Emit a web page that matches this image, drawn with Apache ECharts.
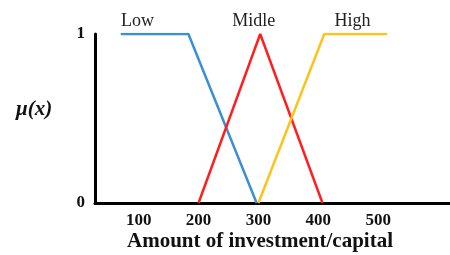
<!DOCTYPE html>
<html>
<head>
<meta charset="utf-8">
<script src="https://cdn.jsdelivr.net/npm/echarts@6/dist/echarts.min.js"></script>
<style>
  html, body { margin: 0; padding: 0; background: #fff; }
  #chart { width: 450px; height: 255px; }
</style>
</head>
<body>
<div id="chart"></div>
<script>
// membership functions
const lowX = [70, 183, 297];
const lowY = [1, 1, 0];
const midX = [200, 303, 407];
const midY = [0, 1, 0];
const highX = [300, 410, 515];
const highY = [0, 1, 1];

const setNames = ['Low', 'Midle', 'High'];
const setLabelX = [98, 292, 457];
const xTicks = [100, 200, 300, 400, 500];
const yTicks = [0, 1];

const colors = ['#3b8fd6', '#ff1f1f', '#ffc21a'];
const serif = '"Liberation Serif", "DejaVu Serif", serif';

const pairs = (xs, ys) => xs.map((x, i) => [x, ys[i]]);
const series = [pairs(lowX, lowY), pairs(midX, midY), pairs(highX, highY)].map((d, i) => ({
    name: setNames[i],
    type: 'line',
    data: d,
    symbol: 'none',
    lineStyle: {color: colors[i], width: 2.5},
    markPoint: {
        symbol: 'circle',
        symbolSize: 0,
        data: [{coord: [setLabelX[i], 1]}],
        label: {
            show: true,
            position: 'top',
            distance: 4,
            formatter: setNames[i],
            color: '#222',
            fontFamily: serif,
            fontSize: 18
        }
    }
}));

const chart = echarts.init(document.getElementById('chart'));
chart.setOption({
    animation: false,
    grid: {left: 95, right: 0, top: 34, bottom: 52},
    xAxis: {
        type: 'value',
        min: 27,
        max: 620,
        splitLine: {show: false},
        axisTick: {show: false},
        axisLine: {lineStyle: {color: '#000', width: 3}},
        axisLabel: {
            customValues: xTicks,
            margin: 9,
            color: '#111',
            fontFamily: serif,
            fontWeight: 'bold',
            fontSize: 17
        }
    },
    yAxis: {
        type: 'value',
        min: 0,
        max: 1,
        splitLine: {show: false},
        axisTick: {show: false},
        axisLine: {show: true, lineStyle: {color: '#000', width: 3}},
        axisLabel: {
            customValues: yTicks,
            margin: 10,
            color: '#111',
            fontFamily: serif,
            fontWeight: 'bold',
            fontSize: 17
        }
    },
    graphic: [
        {
            type: 'text',
            left: 16,
            top: 99,
            style: {
                text: 'μ(x)',
                font: 'italic bold 21px ' + serif,
                fill: '#111'
            }
        },
        {
            type: 'text',
            left: 127,
            top: 231,
            style: {
                text: 'Amount of investment/capital',
                font: 'bold 21px ' + serif,
                fill: '#111'
            }
        }
    ],
    series: series
});
</script>
</body>
</html>
